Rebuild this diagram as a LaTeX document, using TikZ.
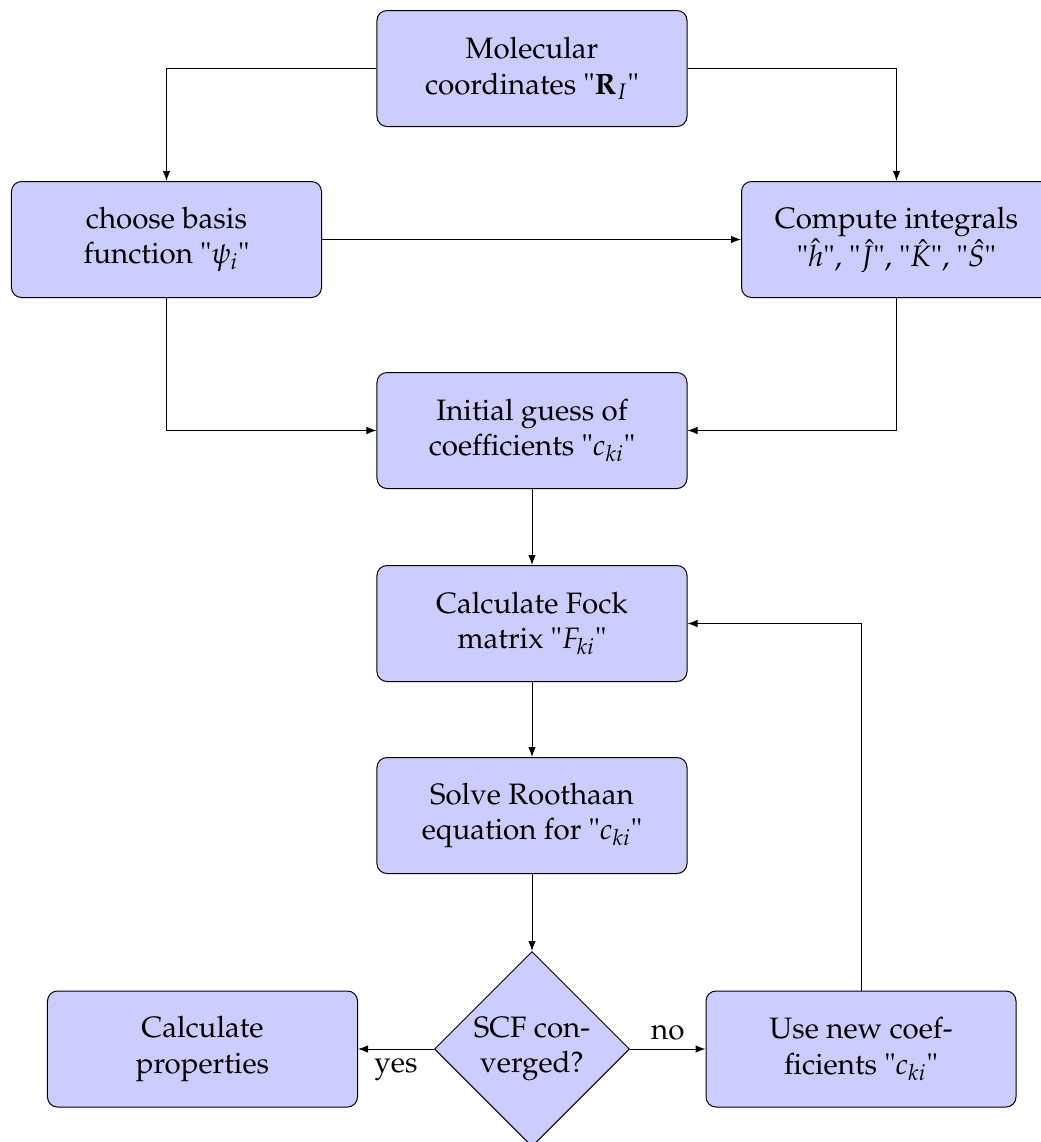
\documentclass[tikz,border=0pt]{standalone}
\usepackage[T1]{fontenc}
\usepackage{mathpazo}
\usetikzlibrary{shapes.geometric,arrows.meta}
\tikzset{
  stepbox/.style={draw=black, fill=blue!20, rounded corners=4pt, minimum width=124pt, minimum height=46.4pt, align=center, inner sep=2pt, font=\fontsize{11.8}{14.2}\selectfont, line width=0.4pt},
  decide/.style={draw=black, fill=blue!20, diamond, aspect=1, minimum width=78pt, minimum height=78pt, inner sep=0pt, align=center, font=\fontsize{11.8}{14.2}\selectfont, line width=0.4pt},
  conn/.style={-{Latex[length=4pt,width=3pt]}, line width=0.4pt},
  lbl/.style={font=\fontsize{11.8}{14.2}\selectfont}
}
\begin{document}
\begin{tikzpicture}[x=0.4pt,y=-0.4pt]
\useasboundingbox (0,0) rectangle (1041,1142);
\node[stepbox] (A) at (532,68.5) {Molecular\\coordinates "$\mathbf{R}_I$"};
\node[stepbox] (B) at (166.5,239.5) {choose basis\\function "$\psi_i$"};
\node[stepbox] (C) at (896.5,239.5) {Compute integrals\\"$\hat{h}$", "$\hat{J}$", "$\hat{K}$", "$\hat{S}$"};
\node[stepbox] (D) at (532,430.5) {Initial guess of\\coefficients "$c_{ki}$"};
\node[stepbox] (E) at (532,623.5) {Calculate Fock\\matrix "$F_{ki}$"};
\node[stepbox] (F) at (532,815.5) {Solve Roothaan\\equation for "$c_{ki}$"};
\node[decide] (Q) at (532,1049) {SCF con-\\verged?};
\node[stepbox] (G) at (202.5,1049) {Calculate\\properties};
\node[stepbox] (H) at (861,1049) {Use new coef-\\ficients "$c_{ki}$"};
\draw[conn] (A.west) -| (B.north);
\draw[conn] (A.east) -| (C.north);
\draw[conn] (B.east) -- (C.west);
\draw[conn] (B.south) |- (D.west);
\draw[conn] (C.south) |- (D.east);
\draw[conn] (D) -- (E);
\draw[conn] (E) -- (F);
\draw[conn] (F) -- (Q);
\draw[conn] (Q.west) -- node[lbl, below] {yes} (G.east);
\draw[conn] (Q.east) -- node[lbl, above] {no} (H.west);
\draw[conn] (H.north) |- (E.east);
\end{tikzpicture}
\end{document}
